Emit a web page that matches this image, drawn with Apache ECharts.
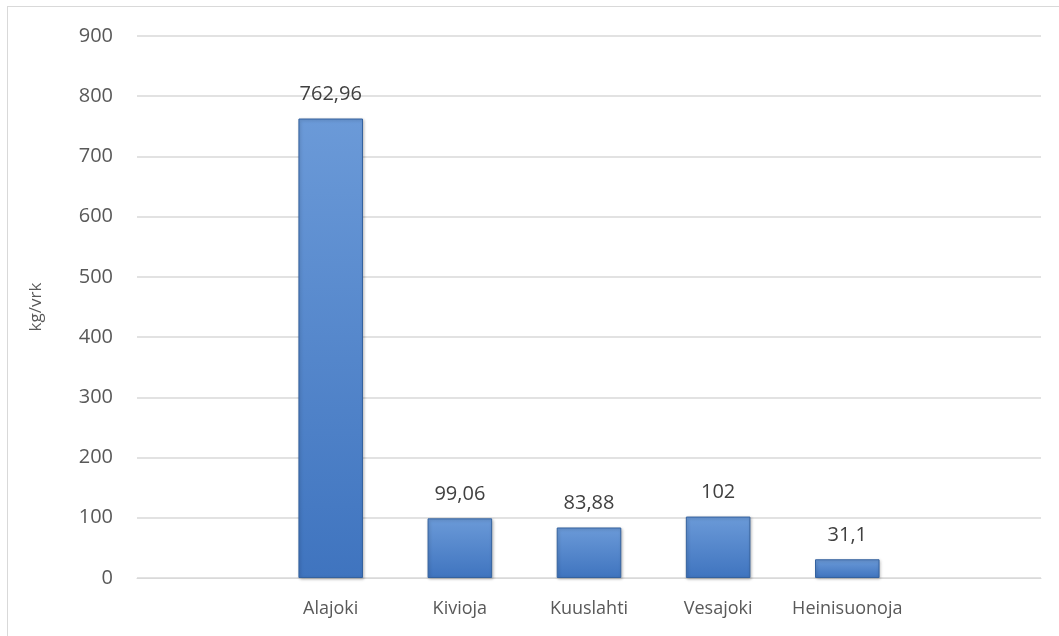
<!DOCTYPE html>
<html>
<head>
<meta charset="utf-8">
<script src="https://cdn.jsdelivr.net/npm/echarts@6/dist/echarts.min.js"></script>
<style>
  html, body { margin: 0; padding: 0; background: #fff; }
  #chart { width: 1059px; height: 636px; }
</style>
</head>
<body>
<div id="chart"></div>
<script>
  // first and last slots are empty in the original
  const categories = ['', 'Alajoki', 'Kivioja', 'Kuuslahti', 'Vesajoki', 'Heinisuonoja', ''];
  const values = [null, 762.96, 99.06, 83.88, 102, 31.1, null];
  const yTicks = [0, 100, 200, 300, 400, 500, 600, 700, 800, 900];

  const font = '"Open Sans", sans-serif';
  const textColor = '#595959';

  const chart = echarts.init(document.getElementById('chart'));

  const option = {
    animation: false,
    grid: { left: 137, right: 18, top: 36, bottom: 58 },
    graphic: [
      { type: 'line', shape: { x1: 7, y1: 6.5, x2: 1059, y2: 6.5 }, style: { stroke: '#d9d9d9', lineWidth: 1 } },
      { type: 'line', shape: { x1: 7.5, y1: 6, x2: 7.5, y2: 636 }, style: { stroke: '#d9d9d9', lineWidth: 1 } }
    ],
    xAxis: {
      type: 'category',
      data: categories,
      axisLine: { lineStyle: { color: '#d9d9d9' } },
      axisTick: { show: false },
      axisLabel: { color: textColor, fontSize: 18, fontFamily: font, margin: 22, interval: 0 }
    },
    yAxis: {
      type: 'value',
      min: yTicks[0],
      max: yTicks[yTicks.length - 1],
      interval: 100,
      name: 'kg/vrk',
      nameLocation: 'middle',
      nameRotate: 90,
      nameGap: 92,
      nameTextStyle: { color: textColor, fontSize: 17, fontFamily: font },
      axisLine: { show: false },
      axisTick: { show: false },
      axisLabel: { color: textColor, fontSize: 20, fontFamily: font, margin: 24 },
      splitLine: { lineStyle: { color: '#d9d9d9', width: 1.5 } }
    },
    series: [{
      type: 'bar',
      data: values,
      barWidth: '50%',
      itemStyle: {
        color: new echarts.graphic.LinearGradient(0, 0, 0, 1, [
          { offset: 0, color: '#6b9ad8' },
          { offset: 1, color: '#3f74bf' }
        ]),
        borderColor: '#34629f',
        borderWidth: 1,
        shadowColor: 'rgba(0,0,0,0.25)',
        shadowBlur: 3,
        shadowOffsetX: 1,
        shadowOffsetY: 1
      },
      label: {
        show: true,
        position: 'top',
        distance: 14,
        color: '#404040',
        fontSize: 20,
        fontFamily: font,
        formatter: p => String(p.value).replace('.', ',')
      }
    }]
  };

  chart.setOption(option);
</script>
</body>
</html>
